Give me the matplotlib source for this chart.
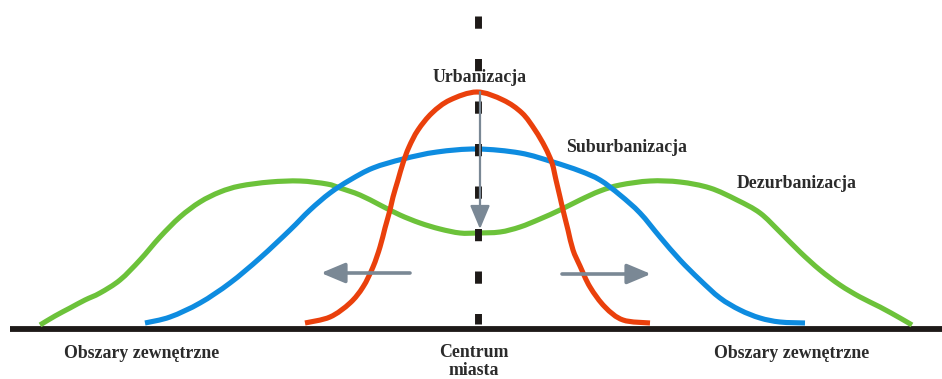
import matplotlib
matplotlib.use("Agg")
import matplotlib.pyplot as plt
from matplotlib.patches import FancyArrowPatch, PathPatch
from matplotlib.path import Path

plt.rcParams['lines.scale_dashes'] = False

# Curves (horizontal position, vertical position in picture units; 0 at top)
red_x = [305, 330, 350, 363, 373, 380, 385, 390, 393, 398, 403, 409, 418, 432, 450, 477,
         503, 522, 535, 545, 552, 556, 560, 563, 568, 573, 580, 590, 605, 623, 650]
red_y = [323, 317, 303, 287, 267, 247, 228, 210, 197, 180, 163, 147, 130, 113, 100, 92,
         100, 113, 130, 147, 163, 180, 197, 210, 230, 250, 266, 287, 307, 320, 323]

blue_x = [145, 170, 200, 230, 260, 290, 310, 330, 350, 373, 403, 437, 477,
          520, 553, 580, 600, 620, 640, 660, 680, 700, 720, 740, 760, 780, 805]
blue_y = [323, 317, 303, 283, 258, 230, 210, 193, 180, 168, 159, 152, 149,
          153, 162, 171, 180, 195, 213, 237, 260, 280, 298, 310, 318, 322, 323]

green_x = [40, 55, 70, 85, 100, 120, 140, 160, 180, 200, 220, 240, 270, 300, 327, 340, 360, 380,
           400, 420, 440, 460, 477, 500, 520, 540, 560, 580, 600, 620, 650, 680, 710, 737, 760,
           780, 800, 820, 840, 860, 880, 900, 912]
green_y = [325, 316, 308, 300, 293, 280, 260, 237, 217, 202, 192, 186, 182, 181, 184, 188, 195, 205,
           215, 223, 229, 233, 233, 232, 227, 219, 210, 200, 191, 185, 181, 182, 188, 200, 213,
           232, 252, 270, 285, 297, 307, 318, 325]

labels = ["Urbanizacja", "Suburbanizacja", "Dezurbanizacja"]
axis_labels = ["Obszary zewnętrzne", "Centrum\nmiasta", "Obszary zewnętrzne"]

RED = "#ea400c"
BLUE = "#0e8ce0"
GREEN = "#6cc23a"
GRAY = "#7a8895"
TXT = "#2b2b2b"

fig = plt.figure(figsize=(9.42, 3.79), dpi=100)
ax = fig.add_axes([0, 0, 1, 1])
ax.set_xlim(0, 942)
ax.set_ylim(379, 0)
ax.axis('off')


def smooth_path(xs, ys):
    """Smooth Bezier path passing through the given points (Catmull-Rom style)."""
    pts = list(zip(xs, ys))
    verts = [pts[0]]
    codes = [Path.MOVETO]
    n = len(pts)
    for i in range(n - 1):
        p0 = pts[i - 1] if i > 0 else pts[i]
        p1 = pts[i]
        p2 = pts[i + 1]
        p3 = pts[i + 2] if i + 2 < n else pts[i + 1]
        c1 = (p1[0] + (p2[0] - p0[0]) / 6.0, p1[1] + (p2[1] - p0[1]) / 6.0)
        c2 = (p2[0] - (p3[0] - p1[0]) / 6.0, p2[1] - (p3[1] - p1[1]) / 6.0)
        verts += [c1, c2, p2]
        codes += [Path.CURVE4] * 3
    return Path(verts, codes)


# baseline
ax.plot([10, 942], [328.5, 328.5], color="#1e1a18", lw=4.2, solid_capstyle='butt', zorder=1)

lw = 3.7
for xs, ys, col, z in [(green_x, green_y, GREEN, 2), (blue_x, blue_y, BLUE, 3), (red_x, red_y, RED, 4)]:
    ax.add_patch(PathPatch(smooth_path(xs, ys), facecolor='none', edgecolor=col, lw=lw,
                           joinstyle='round', capstyle='butt', zorder=z))

# dashed centre line
ax.plot([477.5, 477.5], [16, 324], color="#1e1a18", lw=5.0, dashes=(8.8, 21.8),
        dash_capstyle='butt', zorder=5)


def arrow(p0, p1, lw):
    a = FancyArrowPatch(p0, p1, arrowstyle='-|>,head_length=1.0,head_width=0.42',
                        mutation_scale=14.5, color=GRAY, lw=lw, shrinkA=0, shrinkB=0, zorder=6)
    ax.add_patch(a)


arrow((480, 92), (480, 229), 1.6)
arrow((410, 273), (321, 273), 2.6)
arrow((562, 274), (651, 274), 2.6)

fp = dict(family=['Liberation Serif', 'DejaVu Serif'], fontweight='bold', fontsize=12.8, color=TXT)
ax.text(480, 78, labels[0], ha='center', va='center', **fp)
ax.text(566, 147, labels[1], ha='left', va='center', **fp)
ax.text(737, 183, labels[2], ha='left', va='center', **fp)
ax.text(142, 353, axis_labels[0], ha='center', va='center', **fp)
ax.text(474, 361.5, axis_labels[1], ha='center', va='center', linespacing=1.1, **fp)
ax.text(792, 353, axis_labels[2], ha='center', va='center', **fp)

fig.savefig("out.png", dpi=100)
